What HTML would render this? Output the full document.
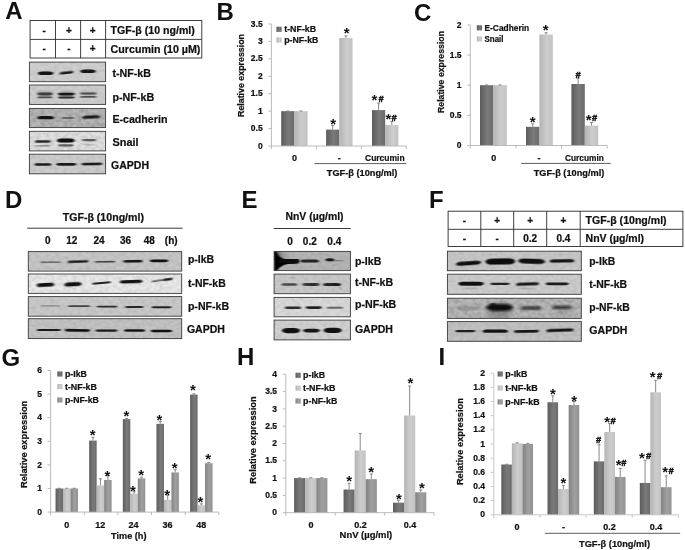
<!DOCTYPE html>
<html lang="en"><head><meta charset="utf-8"><title>Figure</title>
<style>html,body{margin:0;padding:0;background:#fff}svg{display:block;filter:blur(0.3px)}text{font-family:'Liberation Sans', sans-serif}</style>
</head><body>
<svg width="685" height="550" viewBox="0 0 685 550">
<defs>
<filter id="b1" x="-30%" y="-300%" width="160%" height="700%"><feGaussianBlur stdDeviation="1.1 0.7"/></filter>
<filter id="b2" x="-30%" y="-300%" width="160%" height="700%"><feGaussianBlur stdDeviation="1.6 1.2"/></filter>
<filter id="b3" x="-30%" y="-300%" width="160%" height="700%"><feGaussianBlur stdDeviation="2.5 2"/></filter>
<filter id="nz" x="0" y="0" width="100%" height="100%"><feTurbulence type="fractalNoise" baseFrequency="0.22 0.3" numOctaves="2" seed="7" result="t"/><feColorMatrix in="t" type="matrix" values="0 0 0 0 0  0 0 0 0 0  0 0 0 0 0  1.6 0 0 0 -0.55"/></filter>
<filter id="b0" x="-30%" y="-300%" width="160%" height="700%"><feGaussianBlur stdDeviation="0.8 0.5"/></filter>
<linearGradient id="gd" x1="0" y1="0" x2="1" y2="0"><stop offset="0" stop-color="#5c5c5c"/><stop offset="0.55" stop-color="#7a7a7a"/><stop offset="1" stop-color="#6a6a6a"/></linearGradient>
<linearGradient id="gl" x1="0" y1="0" x2="1" y2="0"><stop offset="0" stop-color="#b4b4b4"/><stop offset="0.55" stop-color="#cdcdcd"/><stop offset="1" stop-color="#c2c2c2"/></linearGradient>
<linearGradient id="gm" x1="0" y1="0" x2="1" y2="0"><stop offset="0" stop-color="#828282"/><stop offset="0.55" stop-color="#a0a0a0"/><stop offset="1" stop-color="#929292"/></linearGradient>
</defs>
<rect x="0" y="0" width="685" height="550" fill="#fff" stroke="none" stroke-width="1"/>
<text x="5.2" y="19.2" font-size="24" font-weight="bold" text-anchor="start" fill="#111">A</text>
<text x="216.6" y="19.7" font-size="24" font-weight="bold" text-anchor="start" fill="#111">B</text>
<text x="413.9" y="20.5" font-size="24" font-weight="bold" text-anchor="start" fill="#111">C</text>
<text x="4.9" y="208.1" font-size="24" font-weight="bold" text-anchor="start" fill="#111">D</text>
<text x="241.6" y="208" font-size="24" font-weight="bold" text-anchor="start" fill="#111">E</text>
<text x="429" y="207.8" font-size="24" font-weight="bold" text-anchor="start" fill="#111">F</text>
<text x="1.5" y="365.5" font-size="24" font-weight="bold" text-anchor="start" fill="#111">G</text>
<text x="236.9" y="365.4" font-size="24" font-weight="bold" text-anchor="start" fill="#111">H</text>
<text x="438.6" y="364.8" font-size="24" font-weight="bold" text-anchor="start" fill="#111">I</text>
<rect x="30.1" y="20.5" width="171.7" height="37.5" fill="#fff" stroke="#2a2a2a" stroke-width="0.9"/>
<line x1="30.1" y1="39.4" x2="201.8" y2="39.4" stroke="#2a2a2a" stroke-width="0.9"/>
<line x1="55.5" y1="20.5" x2="55.5" y2="58" stroke="#2a2a2a" stroke-width="0.9"/>
<line x1="80.6" y1="20.5" x2="80.6" y2="58" stroke="#2a2a2a" stroke-width="0.9"/>
<line x1="105.6" y1="20.5" x2="105.6" y2="58" stroke="#2a2a2a" stroke-width="0.9"/>
<text x="44.1" y="33.55" font-size="10" font-weight="bold" text-anchor="middle" fill="#111" stroke="#111" stroke-width="0.22">-</text>
<text x="44.1" y="52.3" font-size="10" font-weight="bold" text-anchor="middle" fill="#111" stroke="#111" stroke-width="0.22">-</text>
<text x="68.95" y="33.55" font-size="10" font-weight="bold" text-anchor="middle" fill="#111" stroke="#111" stroke-width="0.22">+</text>
<text x="68.95" y="52.3" font-size="10" font-weight="bold" text-anchor="middle" fill="#111" stroke="#111" stroke-width="0.22">-</text>
<text x="92.6" y="33.55" font-size="10" font-weight="bold" text-anchor="middle" fill="#111" stroke="#111" stroke-width="0.22">+</text>
<text x="92.6" y="52.3" font-size="10" font-weight="bold" text-anchor="middle" fill="#111" stroke="#111" stroke-width="0.22">+</text>
<text x="110.6" y="33.75" font-size="10.5" font-weight="bold" text-anchor="start" fill="#111" textLength="84.2" lengthAdjust="spacingAndGlyphs" stroke="#111" stroke-width="0.22">TGF-β (10 ng/ml)</text>
<text x="110.6" y="52.5" font-size="10.5" font-weight="bold" text-anchor="start" fill="#111" textLength="89.8" lengthAdjust="spacingAndGlyphs" stroke="#111" stroke-width="0.22">Curcumin (10 µM)</text>
<clipPath id="c1"><rect x="29.4" y="62.1" width="76.2" height="19.6"/></clipPath>
<rect x="29.4" y="62.1" width="76.2" height="19.6" fill="#cfcfcf" stroke="none" stroke-width="1"/>
<g clip-path="url(#c1)">
<rect x="29.4" y="62.1" width="76.2" height="19.6" fill="#000" opacity="0.09" filter="url(#nz)"/>
<rect x="37.85" y="71.4" width="15.5" height="3.6" rx="3.96" ry="1.8" fill="#0a0a0a" opacity="0.96" filter="url(#b1)"/>
<rect x="59.5" y="71.5" width="14" height="2.4" rx="2.64" ry="1.2" fill="#0a0a0a" opacity="0.95" filter="url(#b1)" transform="rotate(-6 66.5 72.7)"/>
<rect x="80.4" y="69.5" width="15.2" height="3.6" rx="3.96" ry="1.8" fill="#0a0a0a" opacity="0.96" filter="url(#b1)"/>
</g>
<rect x="29.4" y="62.1" width="76.2" height="19.6" fill="none" stroke="#3a3a3a" stroke-width="0.9"/>
<clipPath id="c2"><rect x="29.4" y="85" width="76.2" height="19.4"/></clipPath>
<rect x="29.4" y="85" width="76.2" height="19.4" fill="#cecece" stroke="none" stroke-width="1"/>
<g clip-path="url(#c2)">
<rect x="29.4" y="85" width="76.2" height="19.4" fill="#000" opacity="0.09" filter="url(#nz)"/>
<rect x="36.5" y="90.85" width="17" height="5.5" rx="6.05" ry="2.75" fill="#0a0a0a" opacity="0.18" filter="url(#b2)"/>
<rect x="58.5" y="90.85" width="17" height="5.5" rx="6.05" ry="2.75" fill="#0a0a0a" opacity="0.15" filter="url(#b2)"/>
<rect x="80" y="90.85" width="17" height="5.5" rx="6.05" ry="2.75" fill="#0a0a0a" opacity="0.12" filter="url(#b2)"/>
<rect x="37.5" y="92.6" width="15" height="2.8" rx="3.08" ry="1.4" fill="#0a0a0a" opacity="0.68" filter="url(#b1)"/>
<rect x="37.5" y="96.45" width="15" height="1.9" rx="2.09" ry="0.95" fill="#0a0a0a" opacity="0.65" filter="url(#b1)"/>
<rect x="57.9" y="92.8" width="16.8" height="2.6" rx="2.86" ry="1.3" fill="#0a0a0a" opacity="0.93" filter="url(#b1)"/>
<rect x="58.05" y="96.4" width="16.5" height="2" rx="2.2" ry="1" fill="#0a0a0a" opacity="0.82" filter="url(#b1)"/>
<rect x="80.05" y="92.6" width="16.5" height="2" rx="2.2" ry="1" fill="#0a0a0a" opacity="0.6" filter="url(#b1)"/>
<rect x="80.05" y="96" width="16.5" height="1.8" rx="1.98" ry="0.9" fill="#0a0a0a" opacity="0.62" filter="url(#b1)"/>
</g>
<rect x="29.4" y="85" width="76.2" height="19.4" fill="none" stroke="#3a3a3a" stroke-width="0.9"/>
<clipPath id="c3"><rect x="29.4" y="108.4" width="76.2" height="19.2"/></clipPath>
<rect x="29.4" y="108.4" width="76.2" height="19.2" fill="#b6b6b6" stroke="none" stroke-width="1"/>
<g clip-path="url(#c3)">
<rect x="29.4" y="108.4" width="76.2" height="19.2" fill="#000" opacity="0.2" filter="url(#nz)"/>
<rect x="37.45" y="116.1" width="16.5" height="3.2" rx="3.52" ry="1.6" fill="#0a0a0a" opacity="0.97" filter="url(#b1)"/>
<rect x="61.5" y="116.9" width="13" height="2.2" rx="2.42" ry="1.1" fill="#0a0a0a" opacity="0.45" filter="url(#b1)"/>
<rect x="82.25" y="115.5" width="17.5" height="3" rx="3.3" ry="1.5" fill="#0a0a0a" opacity="0.92" filter="url(#b1)" transform="rotate(-3 91 117)"/>
</g>
<rect x="29.4" y="108.4" width="76.2" height="19.2" fill="none" stroke="#3a3a3a" stroke-width="0.9"/>
<clipPath id="c4"><rect x="29.4" y="131.3" width="76.2" height="19.6"/></clipPath>
<rect x="29.4" y="131.3" width="76.2" height="19.6" fill="#e0e0e0" stroke="none" stroke-width="1"/>
<g clip-path="url(#c4)">
<rect x="29.4" y="131.3" width="76.2" height="19.6" fill="#000" opacity="0.14" filter="url(#nz)"/>
<rect x="34.9" y="140.2" width="16" height="2.6" rx="2.86" ry="1.3" fill="#0a0a0a" opacity="0.88" filter="url(#b1)" transform="rotate(-1 42.9 141.5)"/>
<rect x="35.1" y="145" width="15" height="1.8" rx="1.98" ry="0.9" fill="#0a0a0a" opacity="0.3" filter="url(#b1)"/>
<rect x="57.05" y="138.6" width="17.5" height="4" rx="4.4" ry="2" fill="#0a0a0a" opacity="0.98" filter="url(#b1)"/>
<rect x="58.05" y="144.3" width="15.5" height="2.2" rx="2.42" ry="1.1" fill="#0a0a0a" opacity="0.6" filter="url(#b1)"/>
<rect x="81.85" y="139" width="14.5" height="2.2" rx="2.42" ry="1.1" fill="#0a0a0a" opacity="0.62" filter="url(#b1)"/>
<rect x="83" y="143.7" width="12" height="1.8" rx="1.98" ry="0.9" fill="#0a0a0a" opacity="0.15" filter="url(#b1)"/>
</g>
<rect x="29.4" y="131.3" width="76.2" height="19.6" fill="none" stroke="#3a3a3a" stroke-width="0.9"/>
<clipPath id="c5"><rect x="29.4" y="154.2" width="76.2" height="19.6"/></clipPath>
<rect x="29.4" y="154.2" width="76.2" height="19.6" fill="#cdcdcd" stroke="none" stroke-width="1"/>
<g clip-path="url(#c5)">
<rect x="29.4" y="154.2" width="76.2" height="19.6" fill="#000" opacity="0.09" filter="url(#nz)"/>
<rect x="34.5" y="163.25" width="17" height="2.5" rx="2.75" ry="1.25" fill="#0a0a0a" opacity="0.93" filter="url(#b1)"/>
<rect x="56.3" y="162.9" width="20" height="2.8" rx="3.08" ry="1.4" fill="#0a0a0a" opacity="0.93" filter="url(#b1)"/>
<rect x="81.4" y="162.65" width="21" height="2.5" rx="2.75" ry="1.25" fill="#0a0a0a" opacity="0.93" filter="url(#b1)" transform="rotate(-1 91.9 163.9)"/>
</g>
<rect x="29.4" y="154.2" width="76.2" height="19.6" fill="none" stroke="#3a3a3a" stroke-width="0.9"/>
<text x="112.4" y="76.6" font-size="10.5" font-weight="bold" text-anchor="start" fill="#111" textLength="38.6" lengthAdjust="spacingAndGlyphs" stroke="#111" stroke-width="0.22">t-NF-kB</text>
<text x="112.4" y="101.1" font-size="10.5" font-weight="bold" text-anchor="start" fill="#111" textLength="41.8" lengthAdjust="spacingAndGlyphs" stroke="#111" stroke-width="0.22">p-NF-kB</text>
<text x="112.4" y="123.2" font-size="10.5" font-weight="bold" text-anchor="start" fill="#111" textLength="55" lengthAdjust="spacingAndGlyphs" stroke="#111" stroke-width="0.22">E-cadherin</text>
<text x="112.6" y="146.4" font-size="10.5" font-weight="bold" text-anchor="start" fill="#111" textLength="26" lengthAdjust="spacingAndGlyphs" stroke="#111" stroke-width="0.22">Snail</text>
<text x="111" y="169.3" font-size="10.5" font-weight="bold" text-anchor="start" fill="#111" textLength="38" lengthAdjust="spacingAndGlyphs" stroke="#111" stroke-width="0.22">GAPDH</text>
<rect x="281.2" y="111.14" width="13.2" height="34.86" fill="url(#gd)" stroke="none" stroke-width="1"/>
<line x1="287.8" y1="111.14" x2="287.8" y2="110.97" stroke="#7c7c7c" stroke-width="0.9"/>
<line x1="286.3" y1="110.97" x2="289.3" y2="110.97" stroke="#7c7c7c" stroke-width="0.9"/>
<rect x="294.4" y="111.14" width="13.2" height="34.86" fill="url(#gl)" stroke="none" stroke-width="1"/>
<line x1="301" y1="111.14" x2="301" y2="110.97" stroke="#7c7c7c" stroke-width="0.9"/>
<line x1="299.5" y1="110.97" x2="302.5" y2="110.97" stroke="#7c7c7c" stroke-width="0.9"/>
<rect x="326.1" y="129.62" width="13.2" height="16.38" fill="url(#gd)" stroke="none" stroke-width="1"/>
<line x1="332.7" y1="129.62" x2="332.7" y2="125.43" stroke="#7c7c7c" stroke-width="0.9"/>
<line x1="331.2" y1="125.43" x2="334.2" y2="125.43" stroke="#7c7c7c" stroke-width="0.9"/>
<rect x="339.3" y="37.93" width="13.2" height="108.07" fill="url(#gl)" stroke="none" stroke-width="1"/>
<line x1="345.9" y1="37.93" x2="345.9" y2="35.84" stroke="#7c7c7c" stroke-width="0.9"/>
<line x1="344.4" y1="35.84" x2="347.4" y2="35.84" stroke="#7c7c7c" stroke-width="0.9"/>
<rect x="372" y="110.09" width="13.2" height="35.91" fill="url(#gd)" stroke="none" stroke-width="1"/>
<line x1="378.6" y1="110.09" x2="378.6" y2="103.12" stroke="#7c7c7c" stroke-width="0.9"/>
<line x1="377.1" y1="103.12" x2="380.1" y2="103.12" stroke="#7c7c7c" stroke-width="0.9"/>
<rect x="385.2" y="125.08" width="13.2" height="20.92" fill="url(#gl)" stroke="none" stroke-width="1"/>
<line x1="391.8" y1="125.08" x2="391.8" y2="121.6" stroke="#7c7c7c" stroke-width="0.9"/>
<line x1="390.3" y1="121.6" x2="393.3" y2="121.6" stroke="#7c7c7c" stroke-width="0.9"/>
<line x1="271.4" y1="23.99" x2="271.4" y2="146.4" stroke="#b4b4b4" stroke-width="0.9"/>
<line x1="271.4" y1="146" x2="406.3" y2="146" stroke="#b4b4b4" stroke-width="0.9"/>
<line x1="268.4" y1="146" x2="271.4" y2="146" stroke="#b4b4b4" stroke-width="0.9"/>
<text x="262.7" y="148.6" font-size="8.5" font-weight="bold" text-anchor="end" fill="#111" stroke="#111" stroke-width="0.22">0</text>
<line x1="268.4" y1="128.57" x2="271.4" y2="128.57" stroke="#b4b4b4" stroke-width="0.9"/>
<text x="262.7" y="131.17" font-size="8.5" font-weight="bold" text-anchor="end" fill="#111" stroke="#111" stroke-width="0.22">0.5</text>
<line x1="268.4" y1="111.14" x2="271.4" y2="111.14" stroke="#b4b4b4" stroke-width="0.9"/>
<text x="262.7" y="113.74" font-size="8.5" font-weight="bold" text-anchor="end" fill="#111" stroke="#111" stroke-width="0.22">1</text>
<line x1="268.4" y1="93.71" x2="271.4" y2="93.71" stroke="#b4b4b4" stroke-width="0.9"/>
<text x="262.7" y="96.31" font-size="8.5" font-weight="bold" text-anchor="end" fill="#111" stroke="#111" stroke-width="0.22">1.5</text>
<line x1="268.4" y1="76.28" x2="271.4" y2="76.28" stroke="#b4b4b4" stroke-width="0.9"/>
<text x="262.7" y="78.88" font-size="8.5" font-weight="bold" text-anchor="end" fill="#111" stroke="#111" stroke-width="0.22">2</text>
<line x1="268.4" y1="58.85" x2="271.4" y2="58.85" stroke="#b4b4b4" stroke-width="0.9"/>
<text x="262.7" y="61.45" font-size="8.5" font-weight="bold" text-anchor="end" fill="#111" stroke="#111" stroke-width="0.22">2.5</text>
<line x1="268.4" y1="41.42" x2="271.4" y2="41.42" stroke="#b4b4b4" stroke-width="0.9"/>
<text x="262.7" y="44.02" font-size="8.5" font-weight="bold" text-anchor="end" fill="#111" stroke="#111" stroke-width="0.22">3</text>
<line x1="268.4" y1="23.99" x2="271.4" y2="23.99" stroke="#b4b4b4" stroke-width="0.9"/>
<text x="262.7" y="26.59" font-size="8.5" font-weight="bold" text-anchor="end" fill="#111" stroke="#111" stroke-width="0.22">3.5</text>
<line x1="271.4" y1="146" x2="271.4" y2="149" stroke="#b4b4b4" stroke-width="0.9"/>
<line x1="316.37" y1="146" x2="316.37" y2="149" stroke="#b4b4b4" stroke-width="0.9"/>
<line x1="361.33" y1="146" x2="361.33" y2="149" stroke="#b4b4b4" stroke-width="0.9"/>
<line x1="406.3" y1="146" x2="406.3" y2="149" stroke="#b4b4b4" stroke-width="0.9"/>
<text x="294.6" y="161.2" font-size="9" font-weight="bold" text-anchor="middle" fill="#111" stroke="#111" stroke-width="0.22">0</text>
<text x="339.3" y="161.2" font-size="9" font-weight="bold" text-anchor="middle" fill="#111" stroke="#111" stroke-width="0.22">-</text>
<text x="384.8" y="161.2" font-size="9" font-weight="bold" text-anchor="middle" fill="#111" textLength="39.6" lengthAdjust="spacingAndGlyphs" stroke="#111" stroke-width="0.22">Curcumin</text>
<rect x="276.4" y="26.7" width="5.2" height="5.2" fill="url(#gd)" stroke="none" stroke-width="1"/>
<text x="284.2" y="32.4" font-size="8.8" font-weight="bold" text-anchor="start" fill="#111" textLength="32" lengthAdjust="spacingAndGlyphs" stroke="#111" stroke-width="0.22">t-NF-kB</text>
<rect x="276.4" y="37.4" width="5.2" height="5.2" fill="url(#gl)" stroke="none" stroke-width="1"/>
<text x="284.2" y="43.1" font-size="8.8" font-weight="bold" text-anchor="start" fill="#111" textLength="34.2" lengthAdjust="spacingAndGlyphs" stroke="#111" stroke-width="0.22">p-NF-kB</text>
<text transform="translate(244.2 75.5) rotate(-90)" font-size="9.2" font-weight="bold" text-anchor="middle" fill="#111" stroke="#111" stroke-width="0.22" textLength="83" lengthAdjust="spacingAndGlyphs">Relative expression</text>
<line x1="314.3" y1="163.6" x2="406.3" y2="163.6" stroke="#333" stroke-width="0.8"/>
<text x="362.1" y="175.6" font-size="9.6" font-weight="bold" text-anchor="middle" fill="#111" textLength="70.7" lengthAdjust="spacingAndGlyphs" stroke="#111" stroke-width="0.22">TGF-β (10ng/ml)</text>
<rect x="480" y="85.2" width="13.4" height="60.3" fill="url(#gd)" stroke="none" stroke-width="1"/>
<line x1="486.7" y1="85.2" x2="486.7" y2="84.96" stroke="#7c7c7c" stroke-width="0.9"/>
<line x1="485.2" y1="84.96" x2="488.2" y2="84.96" stroke="#7c7c7c" stroke-width="0.9"/>
<rect x="493.4" y="85.2" width="13.4" height="60.3" fill="url(#gl)" stroke="none" stroke-width="1"/>
<line x1="500.1" y1="85.2" x2="500.1" y2="84.96" stroke="#7c7c7c" stroke-width="0.9"/>
<line x1="498.6" y1="84.96" x2="501.6" y2="84.96" stroke="#7c7c7c" stroke-width="0.9"/>
<rect x="526" y="126.81" width="13.4" height="18.69" fill="url(#gd)" stroke="none" stroke-width="1"/>
<line x1="532.7" y1="126.81" x2="532.7" y2="123.79" stroke="#7c7c7c" stroke-width="0.9"/>
<line x1="531.2" y1="123.79" x2="534.2" y2="123.79" stroke="#7c7c7c" stroke-width="0.9"/>
<rect x="539.4" y="34.55" width="13.4" height="110.95" fill="url(#gl)" stroke="none" stroke-width="1"/>
<line x1="546.1" y1="34.55" x2="546.1" y2="32.74" stroke="#7c7c7c" stroke-width="0.9"/>
<line x1="544.6" y1="32.74" x2="547.6" y2="32.74" stroke="#7c7c7c" stroke-width="0.9"/>
<rect x="571.4" y="83.99" width="13.4" height="61.51" fill="url(#gd)" stroke="none" stroke-width="1"/>
<line x1="578.1" y1="83.99" x2="578.1" y2="77.96" stroke="#7c7c7c" stroke-width="0.9"/>
<line x1="576.6" y1="77.96" x2="579.6" y2="77.96" stroke="#7c7c7c" stroke-width="0.9"/>
<rect x="584.8" y="125.6" width="13.4" height="19.9" fill="url(#gl)" stroke="none" stroke-width="1"/>
<line x1="591.5" y1="125.6" x2="591.5" y2="122.59" stroke="#7c7c7c" stroke-width="0.9"/>
<line x1="590" y1="122.59" x2="593" y2="122.59" stroke="#7c7c7c" stroke-width="0.9"/>
<line x1="470.3" y1="24.9" x2="470.3" y2="145.9" stroke="#b4b4b4" stroke-width="0.9"/>
<line x1="470.3" y1="145.5" x2="607.2" y2="145.5" stroke="#b4b4b4" stroke-width="0.9"/>
<line x1="467.3" y1="145.5" x2="470.3" y2="145.5" stroke="#b4b4b4" stroke-width="0.9"/>
<text x="461.6" y="148.1" font-size="8.5" font-weight="bold" text-anchor="end" fill="#111" stroke="#111" stroke-width="0.22">0</text>
<line x1="467.3" y1="115.35" x2="470.3" y2="115.35" stroke="#b4b4b4" stroke-width="0.9"/>
<text x="461.6" y="117.95" font-size="8.5" font-weight="bold" text-anchor="end" fill="#111" stroke="#111" stroke-width="0.22">0.5</text>
<line x1="467.3" y1="85.2" x2="470.3" y2="85.2" stroke="#b4b4b4" stroke-width="0.9"/>
<text x="461.6" y="87.8" font-size="8.5" font-weight="bold" text-anchor="end" fill="#111" stroke="#111" stroke-width="0.22">1</text>
<line x1="467.3" y1="55.05" x2="470.3" y2="55.05" stroke="#b4b4b4" stroke-width="0.9"/>
<text x="461.6" y="57.65" font-size="8.5" font-weight="bold" text-anchor="end" fill="#111" stroke="#111" stroke-width="0.22">1.5</text>
<line x1="467.3" y1="24.9" x2="470.3" y2="24.9" stroke="#b4b4b4" stroke-width="0.9"/>
<text x="461.6" y="27.5" font-size="8.5" font-weight="bold" text-anchor="end" fill="#111" stroke="#111" stroke-width="0.22">2</text>
<line x1="470.3" y1="145.5" x2="470.3" y2="148.5" stroke="#b4b4b4" stroke-width="0.9"/>
<line x1="515.93" y1="145.5" x2="515.93" y2="148.5" stroke="#b4b4b4" stroke-width="0.9"/>
<line x1="561.57" y1="145.5" x2="561.57" y2="148.5" stroke="#b4b4b4" stroke-width="0.9"/>
<line x1="607.2" y1="145.5" x2="607.2" y2="148.5" stroke="#b4b4b4" stroke-width="0.9"/>
<text x="493.7" y="161.3" font-size="9" font-weight="bold" text-anchor="middle" fill="#111" stroke="#111" stroke-width="0.22">0</text>
<text x="539" y="161.3" font-size="9" font-weight="bold" text-anchor="middle" fill="#111" stroke="#111" stroke-width="0.22">-</text>
<text x="584.4" y="161.3" font-size="9" font-weight="bold" text-anchor="middle" fill="#111" textLength="38.8" lengthAdjust="spacingAndGlyphs" stroke="#111" stroke-width="0.22">Curcumin</text>
<rect x="476.8" y="25.2" width="5.2" height="5.2" fill="url(#gd)" stroke="none" stroke-width="1"/>
<text x="484.5" y="30.9" font-size="8.8" font-weight="bold" text-anchor="start" fill="#111" textLength="44.6" lengthAdjust="spacingAndGlyphs" stroke="#111" stroke-width="0.22">E-Cadherin</text>
<rect x="476.8" y="36.4" width="5.2" height="5.2" fill="url(#gl)" stroke="none" stroke-width="1"/>
<text x="484.5" y="42.1" font-size="8.8" font-weight="bold" text-anchor="start" fill="#111" textLength="19" lengthAdjust="spacingAndGlyphs" stroke="#111" stroke-width="0.22">Snail</text>
<text transform="translate(443.8 72) rotate(-90)" font-size="9.2" font-weight="bold" text-anchor="middle" fill="#111" stroke="#111" stroke-width="0.22" textLength="82" lengthAdjust="spacingAndGlyphs">Relative expression</text>
<line x1="521.2" y1="163.4" x2="610.7" y2="163.4" stroke="#333" stroke-width="0.8"/>
<text x="569" y="175.6" font-size="9.6" font-weight="bold" text-anchor="middle" fill="#111" textLength="70.7" lengthAdjust="spacingAndGlyphs" stroke="#111" stroke-width="0.22">TGF-β (10ng/ml)</text>
<text x="62.7" y="221.2" font-size="10.5" font-weight="bold" text-anchor="start" fill="#111" textLength="81.3" lengthAdjust="spacingAndGlyphs" stroke="#111" stroke-width="0.22">TGF-β (10ng/ml)</text>
<line x1="27.2" y1="228.2" x2="182.6" y2="228.2" stroke="#222" stroke-width="0.9"/>
<text x="47.7" y="244.2" font-size="10" font-weight="bold" text-anchor="middle" fill="#111" stroke="#111" stroke-width="0.22">0</text>
<text x="71.8" y="244.2" font-size="10" font-weight="bold" text-anchor="middle" fill="#111" stroke="#111" stroke-width="0.22">12</text>
<text x="99" y="244.2" font-size="10" font-weight="bold" text-anchor="middle" fill="#111" stroke="#111" stroke-width="0.22">24</text>
<text x="125.6" y="244.2" font-size="10" font-weight="bold" text-anchor="middle" fill="#111" stroke="#111" stroke-width="0.22">36</text>
<text x="149.3" y="244.2" font-size="10" font-weight="bold" text-anchor="middle" fill="#111" stroke="#111" stroke-width="0.22">48</text>
<text x="171.2" y="244.2" font-size="10" font-weight="bold" text-anchor="middle" fill="#111" stroke="#111" stroke-width="0.22">(h)</text>
<clipPath id="c6"><rect x="28.3" y="251.6" width="153.4" height="19.5"/></clipPath>
<rect x="28.3" y="251.6" width="153.4" height="19.5" fill="#c6c6c6" stroke="none" stroke-width="1"/>
<g clip-path="url(#c6)">
<rect x="28.3" y="251.6" width="153.4" height="19.5" fill="#000" opacity="0.09" filter="url(#nz)"/>
<rect x="40.3" y="261.45" width="21" height="1.5" rx="1.65" ry="0.75" fill="#0a0a0a" opacity="0.5" filter="url(#b1)" transform="rotate(-1 50.8 262.2)"/>
<rect x="67.5" y="260.6" width="21" height="2.2" rx="2.42" ry="1.1" fill="#0a0a0a" opacity="0.95" filter="url(#b1)" transform="rotate(-2 78 261.7)"/>
<rect x="94.5" y="260.9" width="21" height="1.6" rx="1.76" ry="0.8" fill="#0a0a0a" opacity="0.72" filter="url(#b1)" transform="rotate(-1 105 261.7)"/>
<rect x="123.15" y="260" width="19.5" height="2.4" rx="2.64" ry="1.2" fill="#0a0a0a" opacity="0.95" filter="url(#b1)" transform="rotate(-1 132.9 261.2)"/>
<rect x="149.85" y="259.4" width="18.5" height="2.8" rx="3.08" ry="1.4" fill="#0a0a0a" opacity="0.98" filter="url(#b1)"/>
</g>
<rect x="28.3" y="251.6" width="153.4" height="19.5" fill="none" stroke="#3a3a3a" stroke-width="0.9"/>
<clipPath id="c7"><rect x="28.3" y="274" width="153.4" height="19.4"/></clipPath>
<rect x="28.3" y="274" width="153.4" height="19.4" fill="#e9e9e9" stroke="none" stroke-width="1"/>
<g clip-path="url(#c7)">
<rect x="28.3" y="274" width="153.4" height="19.4" fill="#000" opacity="0.12" filter="url(#nz)"/>
<rect x="36.75" y="283.1" width="17.5" height="3.6" rx="3.96" ry="1.8" fill="#0a0a0a" opacity="0.98" filter="url(#b1)" transform="rotate(-3 45.5 284.9)"/>
<rect x="64.5" y="282.2" width="17" height="4" rx="4.4" ry="2" fill="#0a0a0a" opacity="0.98" filter="url(#b1)" transform="rotate(-3 73 284.2)"/>
<rect x="92" y="281.9" width="19" height="2.2" rx="2.42" ry="1.1" fill="#0a0a0a" opacity="0.9" filter="url(#b1)" transform="rotate(-5 101.5 283)"/>
<rect x="119.7" y="280" width="23" height="3.2" rx="3.52" ry="1.6" fill="#0a0a0a" opacity="0.98" filter="url(#b1)" transform="rotate(-2 131.2 281.6)"/>
<rect x="151.5" y="279.3" width="21" height="1.8" rx="1.98" ry="0.9" fill="#0a0a0a" opacity="0.6" filter="url(#b1)" transform="rotate(-8 162 280.2)"/>
<rect x="163.5" y="278.2" width="9" height="2.4" rx="2.64" ry="1.2" fill="#0a0a0a" opacity="0.85" filter="url(#b1)" transform="rotate(-8 168 279.4)"/>
</g>
<rect x="28.3" y="274" width="153.4" height="19.4" fill="none" stroke="#3a3a3a" stroke-width="0.9"/>
<clipPath id="c8"><rect x="28.3" y="296.6" width="153.4" height="19.6"/></clipPath>
<rect x="28.3" y="296.6" width="153.4" height="19.6" fill="#c9c9c9" stroke="none" stroke-width="1"/>
<g clip-path="url(#c8)">
<rect x="28.3" y="296.6" width="153.4" height="19.6" fill="#000" opacity="0.09" filter="url(#nz)"/>
<rect x="40.5" y="305.15" width="20" height="1.3" rx="1.43" ry="0.65" fill="#0a0a0a" opacity="0.33" filter="url(#b1)"/>
<rect x="68" y="305.35" width="22" height="1.7" rx="1.87" ry="0.85" fill="#0a0a0a" opacity="0.72" filter="url(#b1)"/>
<rect x="96.5" y="305.65" width="21" height="1.9" rx="2.09" ry="0.95" fill="#0a0a0a" opacity="0.82" filter="url(#b1)"/>
<rect x="125.05" y="306.05" width="18.5" height="1.9" rx="2.09" ry="0.95" fill="#0a0a0a" opacity="0.85" filter="url(#b1)"/>
<rect x="151.5" y="306.35" width="20" height="1.9" rx="2.09" ry="0.95" fill="#0a0a0a" opacity="0.88" filter="url(#b1)"/>
</g>
<rect x="28.3" y="296.6" width="153.4" height="19.6" fill="none" stroke="#3a3a3a" stroke-width="0.9"/>
<clipPath id="c9"><rect x="28.3" y="318.7" width="153.4" height="19.9"/></clipPath>
<rect x="28.3" y="318.7" width="153.4" height="19.9" fill="#c3c3c3" stroke="none" stroke-width="1"/>
<g clip-path="url(#c9)">
<rect x="28.3" y="318.7" width="153.4" height="19.9" fill="#000" opacity="0.09" filter="url(#nz)"/>
<rect x="36.8" y="329" width="24" height="2" rx="2.2" ry="1" fill="#0a0a0a" opacity="0.93" filter="url(#b1)"/>
<rect x="64.75" y="328.9" width="25.5" height="2.8" rx="3.08" ry="1.4" fill="#0a0a0a" opacity="0.97" filter="url(#b1)" transform="rotate(1 77.5 330.3)"/>
<rect x="95.5" y="329.5" width="22" height="2.2" rx="2.42" ry="1.1" fill="#0a0a0a" opacity="0.93" filter="url(#b1)"/>
<rect x="124" y="329.25" width="21" height="2.5" rx="2.75" ry="1.25" fill="#0a0a0a" opacity="0.97" filter="url(#b1)"/>
<rect x="150.75" y="329.65" width="21.5" height="2.7" rx="2.97" ry="1.35" fill="#0a0a0a" opacity="0.97" filter="url(#b1)"/>
</g>
<rect x="28.3" y="318.7" width="153.4" height="19.9" fill="none" stroke="#3a3a3a" stroke-width="0.9"/>
<text x="187.9" y="262.8" font-size="10.5" font-weight="bold" text-anchor="start" fill="#111" textLength="26.2" lengthAdjust="spacingAndGlyphs" stroke="#111" stroke-width="0.22">p-IkB</text>
<text x="187.9" y="286.6" font-size="10.5" font-weight="bold" text-anchor="start" fill="#111" textLength="37.9" lengthAdjust="spacingAndGlyphs" stroke="#111" stroke-width="0.22">t-NF-kB</text>
<text x="187.9" y="309.7" font-size="10.5" font-weight="bold" text-anchor="start" fill="#111" textLength="41.2" lengthAdjust="spacingAndGlyphs" stroke="#111" stroke-width="0.22">p-NF-kB</text>
<text x="186.9" y="333.1" font-size="10.5" font-weight="bold" text-anchor="start" fill="#111" textLength="38" lengthAdjust="spacingAndGlyphs" stroke="#111" stroke-width="0.22">GAPDH</text>
<text x="285.5" y="220.4" font-size="10.5" font-weight="bold" text-anchor="start" fill="#111" textLength="58" lengthAdjust="spacingAndGlyphs" stroke="#111" stroke-width="0.22">NnV (µg/ml)</text>
<line x1="273.7" y1="228.5" x2="350.7" y2="228.5" stroke="#222" stroke-width="0.9"/>
<text x="290" y="244.9" font-size="10" font-weight="bold" text-anchor="middle" fill="#111" stroke="#111" stroke-width="0.22">0</text>
<text x="309.8" y="244.9" font-size="10" font-weight="bold" text-anchor="middle" fill="#111" stroke="#111" stroke-width="0.22">0.2</text>
<text x="334.3" y="244.9" font-size="10" font-weight="bold" text-anchor="middle" fill="#111" stroke="#111" stroke-width="0.22">0.4</text>
<clipPath id="c10"><rect x="274.1" y="251.4" width="76.3" height="19.2"/></clipPath>
<rect x="274.1" y="251.4" width="76.3" height="19.2" fill="#b5b5b5" stroke="none" stroke-width="1"/>
<g clip-path="url(#c10)">
<rect x="274.1" y="251.4" width="76.3" height="19.2" fill="#000" opacity="0.09" filter="url(#nz)"/>
<linearGradient id="eh" x1="0" y1="0" x2="1" y2="0"><stop offset="0" stop-color="#222" stop-opacity="0.75"/><stop offset="0.45" stop-color="#555" stop-opacity="0.3"/><stop offset="1" stop-color="#888" stop-opacity="0"/></linearGradient><rect x="274" y="251" width="18" height="8.5" fill="url(#eh)"/><path d="M274 250.5 L276.2 250.5 C277.5 255 280.5 258.4 285 259 L298.5 259 L298.5 263.5 L290 263.7 C284 264.2 279.5 266.5 277 271 L274 271 Z" fill="#060606" filter="url(#b0)"/>
<rect x="277.5" y="259.1" width="21" height="4.4" rx="4.84" ry="2.2" fill="#0a0a0a" opacity="1" filter="url(#b1)"/>
<rect x="300.45" y="259.6" width="18.5" height="3" rx="3.3" ry="1.5" fill="#0a0a0a" opacity="0.85" filter="url(#b1)"/>
<rect x="325.55" y="258.3" width="8.5" height="3" rx="3.3" ry="1.5" fill="#0a0a0a" opacity="0.95" filter="url(#b1)"/>
<rect x="332" y="259.95" width="12" height="1.3" rx="1.43" ry="0.65" fill="#0a0a0a" opacity="0.35" filter="url(#b1)" transform="rotate(3 338 260.6)"/>
</g>
<rect x="274.1" y="251.4" width="76.3" height="19.2" fill="none" stroke="#3a3a3a" stroke-width="0.9"/>
<clipPath id="c11"><rect x="274.1" y="274.1" width="76.3" height="19.6"/></clipPath>
<rect x="274.1" y="274.1" width="76.3" height="19.6" fill="#c9c9c9" stroke="none" stroke-width="1"/>
<g clip-path="url(#c11)">
<rect x="274.1" y="274.1" width="76.3" height="19.6" fill="#000" opacity="0.09" filter="url(#nz)"/>
<rect x="281.4" y="283.15" width="16" height="2.7" rx="2.97" ry="1.35" fill="#0a0a0a" opacity="0.68" filter="url(#b1)"/>
<rect x="302.5" y="283.05" width="17" height="2.9" rx="3.19" ry="1.45" fill="#0a0a0a" opacity="0.75" filter="url(#b1)"/>
<rect x="309" y="283.1" width="8" height="2.4" rx="2.64" ry="1.2" fill="#0a0a0a" opacity="0.3" filter="url(#b1)"/>
<rect x="323.25" y="283" width="17.5" height="3" rx="3.3" ry="1.5" fill="#0a0a0a" opacity="0.85" filter="url(#b1)"/>
<rect x="333" y="283.3" width="7" height="2.6" rx="2.86" ry="1.3" fill="#0a0a0a" opacity="0.5" filter="url(#b1)"/>
<rect x="338" y="287.5" width="5" height="1.6" rx="1.76" ry="0.8" fill="#0a0a0a" opacity="0.2" filter="url(#b1)" transform="rotate(40 340.5 288.3)"/>
<rect x="288.5" y="277.1" width="7" height="1.4" rx="1.54" ry="0.7" fill="#0a0a0a" opacity="0.12" filter="url(#b1)"/>
</g>
<rect x="274.1" y="274.1" width="76.3" height="19.6" fill="none" stroke="#3a3a3a" stroke-width="0.9"/>
<clipPath id="c12"><rect x="274.1" y="297.4" width="76.3" height="19.4"/></clipPath>
<rect x="274.1" y="297.4" width="76.3" height="19.4" fill="#d9d9d9" stroke="none" stroke-width="1"/>
<g clip-path="url(#c12)">
<rect x="274.1" y="297.4" width="76.3" height="19.4" fill="#000" opacity="0.09" filter="url(#nz)"/>
<rect x="284.75" y="306.5" width="16.5" height="2.6" rx="2.86" ry="1.3" fill="#0a0a0a" opacity="0.85" filter="url(#b1)"/>
<rect x="305.7" y="306.2" width="16" height="2.8" rx="3.08" ry="1.4" fill="#0a0a0a" opacity="0.9" filter="url(#b1)"/>
<rect x="326.75" y="306.8" width="16.5" height="2" rx="2.2" ry="1" fill="#0a0a0a" opacity="0.55" filter="url(#b1)"/>
</g>
<rect x="274.1" y="297.4" width="76.3" height="19.4" fill="none" stroke="#3a3a3a" stroke-width="0.9"/>
<clipPath id="c13"><rect x="274.1" y="320.1" width="76.3" height="19.8"/></clipPath>
<rect x="274.1" y="320.1" width="76.3" height="19.8" fill="#d1d1d1" stroke="none" stroke-width="1"/>
<g clip-path="url(#c13)">
<rect x="274.1" y="320.1" width="76.3" height="19.8" fill="#000" opacity="0.09" filter="url(#nz)"/>
<rect x="282" y="327.9" width="18" height="5.4" rx="5.94" ry="2.7" fill="#0a0a0a" opacity="0.98" filter="url(#b1)"/>
<rect x="303.25" y="328.7" width="16.5" height="3.8" rx="4.18" ry="1.9" fill="#0a0a0a" opacity="0.95" filter="url(#b1)"/>
<rect x="323.7" y="327.8" width="18" height="5.2" rx="5.72" ry="2.6" fill="#0a0a0a" opacity="0.98" filter="url(#b1)"/>
</g>
<rect x="274.1" y="320.1" width="76.3" height="19.8" fill="none" stroke="#3a3a3a" stroke-width="0.9"/>
<text x="354.9" y="264.5" font-size="10.5" font-weight="bold" text-anchor="start" fill="#111" textLength="26.4" lengthAdjust="spacingAndGlyphs" stroke="#111" stroke-width="0.22">p-IkB</text>
<text x="354.9" y="286.4" font-size="10.5" font-weight="bold" text-anchor="start" fill="#111" textLength="38.3" lengthAdjust="spacingAndGlyphs" stroke="#111" stroke-width="0.22">t-NF-kB</text>
<text x="354.9" y="308" font-size="10.5" font-weight="bold" text-anchor="start" fill="#111" textLength="41.4" lengthAdjust="spacingAndGlyphs" stroke="#111" stroke-width="0.22">p-NF-kB</text>
<text x="354.9" y="333.3" font-size="10.5" font-weight="bold" text-anchor="start" fill="#111" textLength="38" lengthAdjust="spacingAndGlyphs" stroke="#111" stroke-width="0.22">GAPDH</text>
<rect x="448.1" y="211.2" width="234.8" height="35.3" fill="#fff" stroke="#2a2a2a" stroke-width="0.9"/>
<line x1="448.1" y1="229.3" x2="682.9" y2="229.3" stroke="#2a2a2a" stroke-width="0.9"/>
<line x1="480.8" y1="211.2" x2="480.8" y2="246.5" stroke="#2a2a2a" stroke-width="0.9"/>
<line x1="513.7" y1="211.2" x2="513.7" y2="246.5" stroke="#2a2a2a" stroke-width="0.9"/>
<line x1="546.7" y1="211.2" x2="546.7" y2="246.5" stroke="#2a2a2a" stroke-width="0.9"/>
<line x1="580.2" y1="211.2" x2="580.2" y2="246.5" stroke="#2a2a2a" stroke-width="0.9"/>
<text x="464.45" y="223.85" font-size="10" font-weight="bold" text-anchor="middle" fill="#111" stroke="#111" stroke-width="0.22">-</text>
<text x="464.45" y="241.5" font-size="10" font-weight="bold" text-anchor="middle" fill="#111" stroke="#111" stroke-width="0.22">-</text>
<text x="497.25" y="223.85" font-size="10" font-weight="bold" text-anchor="middle" fill="#111" stroke="#111" stroke-width="0.22">+</text>
<text x="497.25" y="241.5" font-size="10" font-weight="bold" text-anchor="middle" fill="#111" stroke="#111" stroke-width="0.22">-</text>
<text x="530.2" y="223.85" font-size="10" font-weight="bold" text-anchor="middle" fill="#111" stroke="#111" stroke-width="0.22">+</text>
<text x="530.2" y="241.5" font-size="10" font-weight="bold" text-anchor="middle" fill="#111" stroke="#111" stroke-width="0.22">0.2</text>
<text x="563.45" y="223.85" font-size="10" font-weight="bold" text-anchor="middle" fill="#111" stroke="#111" stroke-width="0.22">+</text>
<text x="563.45" y="241.5" font-size="10" font-weight="bold" text-anchor="middle" fill="#111" stroke="#111" stroke-width="0.22">0.4</text>
<text x="585.6" y="224.05" font-size="10.5" font-weight="bold" text-anchor="start" fill="#111" textLength="81" lengthAdjust="spacingAndGlyphs" stroke="#111" stroke-width="0.22">TGF-β (10ng/ml)</text>
<text x="585.6" y="241.7" font-size="10.5" font-weight="bold" text-anchor="start" fill="#111" textLength="58.5" lengthAdjust="spacingAndGlyphs" stroke="#111" stroke-width="0.22">NnV (µg/ml)</text>
<clipPath id="c14"><rect x="447.4" y="251.2" width="133.9" height="19.5"/></clipPath>
<rect x="447.4" y="251.2" width="133.9" height="19.5" fill="#c7c7c7" stroke="none" stroke-width="1"/>
<g clip-path="url(#c14)">
<rect x="447.4" y="251.2" width="133.9" height="19.5" fill="#000" opacity="0.09" filter="url(#nz)"/>
<rect x="456.25" y="261.35" width="24.5" height="3.9" rx="4.29" ry="1.95" fill="#0a0a0a" opacity="0.98" filter="url(#b1)" transform="rotate(-4 468.5 263.3)"/>
<rect x="485.55" y="258.4" width="29.5" height="6.2" rx="6.82" ry="3.1" fill="#0a0a0a" opacity="1" filter="url(#b1)" transform="rotate(-1 500.3 261.5)"/>
<rect x="518.45" y="258.8" width="26.5" height="5" rx="5.5" ry="2.5" fill="#0a0a0a" opacity="0.98" filter="url(#b1)" transform="rotate(2 531.7 261.3)"/>
<rect x="549.75" y="259.2" width="24.5" height="3.4" rx="3.74" ry="1.7" fill="#0a0a0a" opacity="0.95" filter="url(#b1)" transform="rotate(-1 562 260.9)"/>
</g>
<rect x="447.4" y="251.2" width="133.9" height="19.5" fill="none" stroke="#3a3a3a" stroke-width="0.9"/>
<clipPath id="c15"><rect x="447.4" y="274.2" width="133.9" height="20.1"/></clipPath>
<rect x="447.4" y="274.2" width="133.9" height="20.1" fill="#cccccc" stroke="none" stroke-width="1"/>
<g clip-path="url(#c15)">
<rect x="447.4" y="274.2" width="133.9" height="20.1" fill="#000" opacity="0.09" filter="url(#nz)"/>
<rect x="458.5" y="281.75" width="25" height="3.9" rx="4.29" ry="1.95" fill="#0a0a0a" opacity="0.98" filter="url(#b1)"/>
<rect x="490.25" y="282.65" width="19.5" height="2.3" rx="2.53" ry="1.15" fill="#0a0a0a" opacity="0.88" filter="url(#b1)"/>
<rect x="516" y="282.45" width="23" height="3.1" rx="3.41" ry="1.55" fill="#0a0a0a" opacity="0.92" filter="url(#b1)" transform="rotate(-2 527.5 284)"/>
<rect x="545.7" y="282.4" width="23" height="2.8" rx="3.08" ry="1.4" fill="#0a0a0a" opacity="0.92" filter="url(#b1)"/>
<rect x="462" y="287.5" width="16" height="2" rx="2.2" ry="1" fill="#0a0a0a" opacity="0.1" filter="url(#b1)"/>
<rect x="518" y="287.5" width="18" height="2" rx="2.2" ry="1" fill="#0a0a0a" opacity="0.1" filter="url(#b1)"/>
</g>
<rect x="447.4" y="274.2" width="133.9" height="20.1" fill="none" stroke="#3a3a3a" stroke-width="0.9"/>
<clipPath id="c16"><rect x="447.4" y="298.2" width="133.9" height="20.2"/></clipPath>
<rect x="447.4" y="298.2" width="133.9" height="20.2" fill="#b8b8b8" stroke="none" stroke-width="1"/>
<g clip-path="url(#c16)">
<rect x="447.4" y="298.2" width="133.9" height="20.2" fill="#000" opacity="0.2" filter="url(#nz)"/>
<rect x="457" y="306.8" width="22" height="2.8" rx="3.08" ry="1.4" fill="#0a0a0a" opacity="0.25" filter="url(#b2)"/>
<rect x="486" y="303.8" width="27" height="7.4" rx="8.14" ry="3.7" fill="#0a0a0a" opacity="1" filter="url(#b2)"/>
<rect x="490.5" y="302.9" width="5" height="3" rx="2.5" ry="1.5" fill="#0a0a0a" opacity="0.8" filter="url(#b1)"/>
<rect x="487" y="312" width="24" height="5" rx="5.5" ry="2.5" fill="#0a0a0a" opacity="0.3" filter="url(#b3)"/>
<rect x="520.5" y="306.4" width="21" height="3.2" rx="3.52" ry="1.6" fill="#0a0a0a" opacity="0.85" filter="url(#b2)"/>
<rect x="552" y="305.7" width="20" height="3.4" rx="3.74" ry="1.7" fill="#0a0a0a" opacity="0.8" filter="url(#b2)"/>
<rect x="556" y="310.5" width="10" height="4" rx="4.4" ry="2" fill="#0a0a0a" opacity="0.2" filter="url(#b3)"/>
</g>
<rect x="447.4" y="298.2" width="133.9" height="20.2" fill="none" stroke="#3a3a3a" stroke-width="0.9"/>
<clipPath id="c17"><rect x="447.4" y="321.6" width="133.9" height="19.7"/></clipPath>
<rect x="447.4" y="321.6" width="133.9" height="19.7" fill="#c1c1c1" stroke="none" stroke-width="1"/>
<g clip-path="url(#c17)">
<rect x="447.4" y="321.6" width="133.9" height="19.7" fill="#000" opacity="0.09" filter="url(#nz)"/>
<rect x="455.3" y="330.1" width="20" height="2.2" rx="2.42" ry="1.1" fill="#0a0a0a" opacity="0.9" filter="url(#b1)"/>
<rect x="482.9" y="329.6" width="25" height="3.2" rx="3.52" ry="1.6" fill="#0a0a0a" opacity="0.97" filter="url(#b1)"/>
<rect x="514" y="329.9" width="25" height="2.8" rx="3.08" ry="1.4" fill="#0a0a0a" opacity="0.95" filter="url(#b1)" transform="rotate(-1 526.5 331.3)"/>
<rect x="546.5" y="328.7" width="27" height="3" rx="3.3" ry="1.5" fill="#0a0a0a" opacity="0.97" filter="url(#b1)" transform="rotate(-2 560 330.2)"/>
</g>
<rect x="447.4" y="321.6" width="133.9" height="19.7" fill="none" stroke="#3a3a3a" stroke-width="0.9"/>
<text x="589.3" y="264.6" font-size="10.5" font-weight="bold" text-anchor="start" fill="#111" textLength="25.8" lengthAdjust="spacingAndGlyphs" stroke="#111" stroke-width="0.22">p-IkB</text>
<text x="589.3" y="287.5" font-size="10.5" font-weight="bold" text-anchor="start" fill="#111" textLength="37.7" lengthAdjust="spacingAndGlyphs" stroke="#111" stroke-width="0.22">t-NF-kB</text>
<text x="589.3" y="310.8" font-size="10.5" font-weight="bold" text-anchor="start" fill="#111" textLength="40.4" lengthAdjust="spacingAndGlyphs" stroke="#111" stroke-width="0.22">p-NF-kB</text>
<text x="589.3" y="334" font-size="10.5" font-weight="bold" text-anchor="start" fill="#111" textLength="38.2" lengthAdjust="spacingAndGlyphs" stroke="#111" stroke-width="0.22">GAPDH</text>
<rect x="55.55" y="488.5" width="7.48" height="23.6" fill="url(#gd)" stroke="none" stroke-width="1"/>
<line x1="59.29" y1="488.5" x2="59.29" y2="488.26" stroke="#7c7c7c" stroke-width="0.9"/>
<line x1="57.79" y1="488.26" x2="60.79" y2="488.26" stroke="#7c7c7c" stroke-width="0.9"/>
<rect x="63.03" y="488.5" width="7.48" height="23.6" fill="url(#gl)" stroke="none" stroke-width="1"/>
<line x1="66.77" y1="488.5" x2="66.77" y2="488.26" stroke="#7c7c7c" stroke-width="0.9"/>
<line x1="65.27" y1="488.26" x2="68.27" y2="488.26" stroke="#7c7c7c" stroke-width="0.9"/>
<rect x="70.51" y="488.5" width="7.48" height="23.6" fill="url(#gm)" stroke="none" stroke-width="1"/>
<line x1="74.25" y1="488.5" x2="74.25" y2="488.26" stroke="#7c7c7c" stroke-width="0.9"/>
<line x1="72.75" y1="488.26" x2="75.75" y2="488.26" stroke="#7c7c7c" stroke-width="0.9"/>
<rect x="89.19" y="440.59" width="7.48" height="71.51" fill="url(#gd)" stroke="none" stroke-width="1"/>
<line x1="92.93" y1="440.59" x2="92.93" y2="437.29" stroke="#7c7c7c" stroke-width="0.9"/>
<line x1="91.43" y1="437.29" x2="94.43" y2="437.29" stroke="#7c7c7c" stroke-width="0.9"/>
<rect x="96.67" y="485.43" width="7.48" height="26.67" fill="url(#gl)" stroke="none" stroke-width="1"/>
<line x1="100.41" y1="485.43" x2="100.41" y2="478.82" stroke="#7c7c7c" stroke-width="0.9"/>
<line x1="98.91" y1="478.82" x2="101.91" y2="478.82" stroke="#7c7c7c" stroke-width="0.9"/>
<rect x="104.15" y="480" width="7.48" height="32.1" fill="url(#gm)" stroke="none" stroke-width="1"/>
<line x1="107.89" y1="480" x2="107.89" y2="475.28" stroke="#7c7c7c" stroke-width="0.9"/>
<line x1="106.39" y1="475.28" x2="109.39" y2="475.28" stroke="#7c7c7c" stroke-width="0.9"/>
<rect x="122.83" y="419.12" width="7.48" height="92.98" fill="url(#gd)" stroke="none" stroke-width="1"/>
<line x1="126.57" y1="419.12" x2="126.57" y2="418.41" stroke="#7c7c7c" stroke-width="0.9"/>
<line x1="125.07" y1="418.41" x2="128.07" y2="418.41" stroke="#7c7c7c" stroke-width="0.9"/>
<rect x="130.31" y="493.69" width="7.48" height="18.41" fill="url(#gl)" stroke="none" stroke-width="1"/>
<line x1="134.05" y1="493.69" x2="134.05" y2="491.8" stroke="#7c7c7c" stroke-width="0.9"/>
<line x1="132.55" y1="491.8" x2="135.55" y2="491.8" stroke="#7c7c7c" stroke-width="0.9"/>
<rect x="137.79" y="478.35" width="7.48" height="33.75" fill="url(#gm)" stroke="none" stroke-width="1"/>
<line x1="141.53" y1="478.35" x2="141.53" y2="477.17" stroke="#7c7c7c" stroke-width="0.9"/>
<line x1="140.03" y1="477.17" x2="143.03" y2="477.17" stroke="#7c7c7c" stroke-width="0.9"/>
<rect x="156.47" y="423.84" width="7.48" height="88.26" fill="url(#gd)" stroke="none" stroke-width="1"/>
<line x1="160.21" y1="423.84" x2="160.21" y2="421.48" stroke="#7c7c7c" stroke-width="0.9"/>
<line x1="158.71" y1="421.48" x2="161.71" y2="421.48" stroke="#7c7c7c" stroke-width="0.9"/>
<rect x="163.95" y="499.83" width="7.48" height="12.27" fill="url(#gl)" stroke="none" stroke-width="1"/>
<line x1="167.69" y1="499.83" x2="167.69" y2="495.11" stroke="#7c7c7c" stroke-width="0.9"/>
<line x1="166.19" y1="495.11" x2="169.19" y2="495.11" stroke="#7c7c7c" stroke-width="0.9"/>
<rect x="171.43" y="472.45" width="7.48" height="39.65" fill="url(#gm)" stroke="none" stroke-width="1"/>
<line x1="175.17" y1="472.45" x2="175.17" y2="469.62" stroke="#7c7c7c" stroke-width="0.9"/>
<line x1="173.67" y1="469.62" x2="176.67" y2="469.62" stroke="#7c7c7c" stroke-width="0.9"/>
<rect x="190.11" y="394.57" width="7.48" height="117.53" fill="url(#gd)" stroke="none" stroke-width="1"/>
<line x1="193.85" y1="394.57" x2="193.85" y2="393.86" stroke="#7c7c7c" stroke-width="0.9"/>
<line x1="192.35" y1="393.86" x2="195.35" y2="393.86" stroke="#7c7c7c" stroke-width="0.9"/>
<rect x="197.59" y="505.26" width="7.48" height="6.84" fill="url(#gl)" stroke="none" stroke-width="1"/>
<line x1="201.33" y1="505.26" x2="201.33" y2="503.84" stroke="#7c7c7c" stroke-width="0.9"/>
<line x1="199.83" y1="503.84" x2="202.83" y2="503.84" stroke="#7c7c7c" stroke-width="0.9"/>
<rect x="205.07" y="463.25" width="7.48" height="48.85" fill="url(#gm)" stroke="none" stroke-width="1"/>
<line x1="208.81" y1="463.25" x2="208.81" y2="462.54" stroke="#7c7c7c" stroke-width="0.9"/>
<line x1="207.31" y1="462.54" x2="210.31" y2="462.54" stroke="#7c7c7c" stroke-width="0.9"/>
<line x1="50.6" y1="370.5" x2="50.6" y2="512.5" stroke="#b4b4b4" stroke-width="0.9"/>
<line x1="50.6" y1="512.1" x2="218.8" y2="512.1" stroke="#b4b4b4" stroke-width="0.9"/>
<line x1="47.6" y1="512.1" x2="50.6" y2="512.1" stroke="#b4b4b4" stroke-width="0.9"/>
<text x="41.9" y="514.7" font-size="8.5" font-weight="bold" text-anchor="end" fill="#111" stroke="#111" stroke-width="0.22">0</text>
<line x1="47.6" y1="488.5" x2="50.6" y2="488.5" stroke="#b4b4b4" stroke-width="0.9"/>
<text x="41.9" y="491.1" font-size="8.5" font-weight="bold" text-anchor="end" fill="#111" stroke="#111" stroke-width="0.22">1</text>
<line x1="47.6" y1="464.9" x2="50.6" y2="464.9" stroke="#b4b4b4" stroke-width="0.9"/>
<text x="41.9" y="467.5" font-size="8.5" font-weight="bold" text-anchor="end" fill="#111" stroke="#111" stroke-width="0.22">2</text>
<line x1="47.6" y1="441.3" x2="50.6" y2="441.3" stroke="#b4b4b4" stroke-width="0.9"/>
<text x="41.9" y="443.9" font-size="8.5" font-weight="bold" text-anchor="end" fill="#111" stroke="#111" stroke-width="0.22">3</text>
<line x1="47.6" y1="417.7" x2="50.6" y2="417.7" stroke="#b4b4b4" stroke-width="0.9"/>
<text x="41.9" y="420.3" font-size="8.5" font-weight="bold" text-anchor="end" fill="#111" stroke="#111" stroke-width="0.22">4</text>
<line x1="47.6" y1="394.1" x2="50.6" y2="394.1" stroke="#b4b4b4" stroke-width="0.9"/>
<text x="41.9" y="396.7" font-size="8.5" font-weight="bold" text-anchor="end" fill="#111" stroke="#111" stroke-width="0.22">5</text>
<line x1="47.6" y1="370.5" x2="50.6" y2="370.5" stroke="#b4b4b4" stroke-width="0.9"/>
<text x="41.9" y="373.1" font-size="8.5" font-weight="bold" text-anchor="end" fill="#111" stroke="#111" stroke-width="0.22">6</text>
<line x1="50.6" y1="512.1" x2="50.6" y2="515.1" stroke="#b4b4b4" stroke-width="0.9"/>
<line x1="84.24" y1="512.1" x2="84.24" y2="515.1" stroke="#b4b4b4" stroke-width="0.9"/>
<line x1="117.88" y1="512.1" x2="117.88" y2="515.1" stroke="#b4b4b4" stroke-width="0.9"/>
<line x1="151.52" y1="512.1" x2="151.52" y2="515.1" stroke="#b4b4b4" stroke-width="0.9"/>
<line x1="185.16" y1="512.1" x2="185.16" y2="515.1" stroke="#b4b4b4" stroke-width="0.9"/>
<line x1="218.8" y1="512.1" x2="218.8" y2="515.1" stroke="#b4b4b4" stroke-width="0.9"/>
<text x="66.7" y="527.7" font-size="9" font-weight="bold" text-anchor="middle" fill="#111" stroke="#111" stroke-width="0.22">0</text>
<text x="100.2" y="527.7" font-size="9" font-weight="bold" text-anchor="middle" fill="#111" stroke="#111" stroke-width="0.22">12</text>
<text x="133.6" y="527.7" font-size="9" font-weight="bold" text-anchor="middle" fill="#111" stroke="#111" stroke-width="0.22">24</text>
<text x="167.6" y="527.7" font-size="9" font-weight="bold" text-anchor="middle" fill="#111" stroke="#111" stroke-width="0.22">36</text>
<text x="201.3" y="527.7" font-size="9" font-weight="bold" text-anchor="middle" fill="#111" stroke="#111" stroke-width="0.22">48</text>
<rect x="57.3" y="371.4" width="5.2" height="5.2" fill="url(#gd)" stroke="none" stroke-width="1"/>
<text x="64.9" y="377.1" font-size="8.8" font-weight="bold" text-anchor="start" fill="#111" textLength="22" lengthAdjust="spacingAndGlyphs" stroke="#111" stroke-width="0.22">p-IkB</text>
<rect x="57.3" y="384" width="5.2" height="5.2" fill="url(#gl)" stroke="none" stroke-width="1"/>
<text x="64.9" y="389.7" font-size="8.8" font-weight="bold" text-anchor="start" fill="#111" textLength="32.1" lengthAdjust="spacingAndGlyphs" stroke="#111" stroke-width="0.22">t-NF-kB</text>
<rect x="57.3" y="397.4" width="5.2" height="5.2" fill="url(#gm)" stroke="none" stroke-width="1"/>
<text x="64.9" y="403.1" font-size="8.8" font-weight="bold" text-anchor="start" fill="#111" textLength="34" lengthAdjust="spacingAndGlyphs" stroke="#111" stroke-width="0.22">p-NF-kB</text>
<text transform="translate(27 444.4) rotate(-90)" font-size="9.6" font-weight="bold" text-anchor="middle" fill="#111" stroke="#111" stroke-width="0.22" textLength="87.3" lengthAdjust="spacingAndGlyphs">Relative expression</text>
<text x="128.8" y="538.7" font-size="9.4" font-weight="bold" text-anchor="middle" fill="#111" textLength="35.4" lengthAdjust="spacingAndGlyphs" stroke="#111" stroke-width="0.22">Time (h)</text>
<rect x="294.1" y="478.1" width="11.1" height="34.6" fill="url(#gd)" stroke="none" stroke-width="1"/>
<line x1="299.65" y1="478.1" x2="299.65" y2="477.75" stroke="#7c7c7c" stroke-width="0.9"/>
<line x1="298.15" y1="477.75" x2="301.15" y2="477.75" stroke="#7c7c7c" stroke-width="0.9"/>
<rect x="305.2" y="478.1" width="11.1" height="34.6" fill="url(#gl)" stroke="none" stroke-width="1"/>
<line x1="310.75" y1="478.1" x2="310.75" y2="477.75" stroke="#7c7c7c" stroke-width="0.9"/>
<line x1="309.25" y1="477.75" x2="312.25" y2="477.75" stroke="#7c7c7c" stroke-width="0.9"/>
<rect x="316.3" y="478.1" width="11.1" height="34.6" fill="url(#gm)" stroke="none" stroke-width="1"/>
<line x1="321.85" y1="478.1" x2="321.85" y2="477.75" stroke="#7c7c7c" stroke-width="0.9"/>
<line x1="320.35" y1="477.75" x2="323.35" y2="477.75" stroke="#7c7c7c" stroke-width="0.9"/>
<rect x="343.55" y="489.52" width="11.1" height="23.18" fill="url(#gd)" stroke="none" stroke-width="1"/>
<line x1="349.1" y1="489.52" x2="349.1" y2="483.29" stroke="#7c7c7c" stroke-width="0.9"/>
<line x1="347.6" y1="483.29" x2="350.6" y2="483.29" stroke="#7c7c7c" stroke-width="0.9"/>
<rect x="354.65" y="450.42" width="11.1" height="62.28" fill="url(#gl)" stroke="none" stroke-width="1"/>
<line x1="360.2" y1="450.42" x2="360.2" y2="433.47" stroke="#7c7c7c" stroke-width="0.9"/>
<line x1="358.7" y1="433.47" x2="361.7" y2="433.47" stroke="#7c7c7c" stroke-width="0.9"/>
<rect x="365.75" y="479.14" width="11.1" height="33.56" fill="url(#gm)" stroke="none" stroke-width="1"/>
<line x1="371.3" y1="479.14" x2="371.3" y2="473.95" stroke="#7c7c7c" stroke-width="0.9"/>
<line x1="369.8" y1="473.95" x2="372.8" y2="473.95" stroke="#7c7c7c" stroke-width="0.9"/>
<rect x="393" y="502.67" width="11.1" height="10.03" fill="url(#gd)" stroke="none" stroke-width="1"/>
<line x1="398.55" y1="502.67" x2="398.55" y2="500.24" stroke="#7c7c7c" stroke-width="0.9"/>
<line x1="397.05" y1="500.24" x2="400.05" y2="500.24" stroke="#7c7c7c" stroke-width="0.9"/>
<rect x="404.1" y="415.47" width="11.1" height="97.23" fill="url(#gl)" stroke="none" stroke-width="1"/>
<line x1="409.65" y1="415.47" x2="409.65" y2="386.06" stroke="#7c7c7c" stroke-width="0.9"/>
<line x1="408.15" y1="386.06" x2="411.15" y2="386.06" stroke="#7c7c7c" stroke-width="0.9"/>
<rect x="415.2" y="492.29" width="11.1" height="20.41" fill="url(#gm)" stroke="none" stroke-width="1"/>
<line x1="420.75" y1="492.29" x2="420.75" y2="489.86" stroke="#7c7c7c" stroke-width="0.9"/>
<line x1="419.25" y1="489.86" x2="422.25" y2="489.86" stroke="#7c7c7c" stroke-width="0.9"/>
<line x1="285.8" y1="374.3" x2="285.8" y2="513.1" stroke="#b4b4b4" stroke-width="0.9"/>
<line x1="285.8" y1="512.7" x2="434.1" y2="512.7" stroke="#b4b4b4" stroke-width="0.9"/>
<line x1="282.8" y1="512.7" x2="285.8" y2="512.7" stroke="#b4b4b4" stroke-width="0.9"/>
<text x="277.1" y="515.3" font-size="8.5" font-weight="bold" text-anchor="end" fill="#111" stroke="#111" stroke-width="0.22">0</text>
<line x1="282.8" y1="495.4" x2="285.8" y2="495.4" stroke="#b4b4b4" stroke-width="0.9"/>
<text x="277.1" y="498" font-size="8.5" font-weight="bold" text-anchor="end" fill="#111" stroke="#111" stroke-width="0.22">0.5</text>
<line x1="282.8" y1="478.1" x2="285.8" y2="478.1" stroke="#b4b4b4" stroke-width="0.9"/>
<text x="277.1" y="480.7" font-size="8.5" font-weight="bold" text-anchor="end" fill="#111" stroke="#111" stroke-width="0.22">1</text>
<line x1="282.8" y1="460.8" x2="285.8" y2="460.8" stroke="#b4b4b4" stroke-width="0.9"/>
<text x="277.1" y="463.4" font-size="8.5" font-weight="bold" text-anchor="end" fill="#111" stroke="#111" stroke-width="0.22">1.5</text>
<line x1="282.8" y1="443.5" x2="285.8" y2="443.5" stroke="#b4b4b4" stroke-width="0.9"/>
<text x="277.1" y="446.1" font-size="8.5" font-weight="bold" text-anchor="end" fill="#111" stroke="#111" stroke-width="0.22">2</text>
<line x1="282.8" y1="426.2" x2="285.8" y2="426.2" stroke="#b4b4b4" stroke-width="0.9"/>
<text x="277.1" y="428.8" font-size="8.5" font-weight="bold" text-anchor="end" fill="#111" stroke="#111" stroke-width="0.22">2.5</text>
<line x1="282.8" y1="408.9" x2="285.8" y2="408.9" stroke="#b4b4b4" stroke-width="0.9"/>
<text x="277.1" y="411.5" font-size="8.5" font-weight="bold" text-anchor="end" fill="#111" stroke="#111" stroke-width="0.22">3</text>
<line x1="282.8" y1="391.6" x2="285.8" y2="391.6" stroke="#b4b4b4" stroke-width="0.9"/>
<text x="277.1" y="394.2" font-size="8.5" font-weight="bold" text-anchor="end" fill="#111" stroke="#111" stroke-width="0.22">3.5</text>
<line x1="282.8" y1="374.3" x2="285.8" y2="374.3" stroke="#b4b4b4" stroke-width="0.9"/>
<text x="277.1" y="376.9" font-size="8.5" font-weight="bold" text-anchor="end" fill="#111" stroke="#111" stroke-width="0.22">4</text>
<line x1="285.8" y1="512.7" x2="285.8" y2="515.7" stroke="#b4b4b4" stroke-width="0.9"/>
<line x1="335.23" y1="512.7" x2="335.23" y2="515.7" stroke="#b4b4b4" stroke-width="0.9"/>
<line x1="384.67" y1="512.7" x2="384.67" y2="515.7" stroke="#b4b4b4" stroke-width="0.9"/>
<line x1="434.1" y1="512.7" x2="434.1" y2="515.7" stroke="#b4b4b4" stroke-width="0.9"/>
<text x="310.9" y="528.2" font-size="9" font-weight="bold" text-anchor="middle" fill="#111" stroke="#111" stroke-width="0.22">0</text>
<text x="360.5" y="528.2" font-size="9" font-weight="bold" text-anchor="middle" fill="#111" stroke="#111" stroke-width="0.22">0.2</text>
<text x="410" y="528.2" font-size="9" font-weight="bold" text-anchor="middle" fill="#111" stroke="#111" stroke-width="0.22">0.4</text>
<rect x="295.5" y="372.7" width="5.2" height="5.2" fill="url(#gd)" stroke="none" stroke-width="1"/>
<text x="303.1" y="378.4" font-size="8.8" font-weight="bold" text-anchor="start" fill="#111" textLength="22" lengthAdjust="spacingAndGlyphs" stroke="#111" stroke-width="0.22">p-IkB</text>
<rect x="295.5" y="385.6" width="5.2" height="5.2" fill="url(#gl)" stroke="none" stroke-width="1"/>
<text x="303.1" y="391.3" font-size="8.8" font-weight="bold" text-anchor="start" fill="#111" textLength="32.3" lengthAdjust="spacingAndGlyphs" stroke="#111" stroke-width="0.22">t-NF-kB</text>
<rect x="295.5" y="398.4" width="5.2" height="5.2" fill="url(#gm)" stroke="none" stroke-width="1"/>
<text x="303.1" y="404.1" font-size="8.8" font-weight="bold" text-anchor="start" fill="#111" textLength="34.2" lengthAdjust="spacingAndGlyphs" stroke="#111" stroke-width="0.22">p-NF-kB</text>
<text transform="translate(256.2 440) rotate(-90)" font-size="9.6" font-weight="bold" text-anchor="middle" fill="#111" stroke="#111" stroke-width="0.22" textLength="87.3" lengthAdjust="spacingAndGlyphs">Relative expression</text>
<text x="365.9" y="537.8" font-size="9.4" font-weight="bold" text-anchor="middle" fill="#111" textLength="52.6" lengthAdjust="spacingAndGlyphs" stroke="#111" stroke-width="0.22">NnV (µg/ml)</text>
<rect x="501.3" y="464.53" width="10.58" height="50.27" fill="url(#gd)" stroke="none" stroke-width="1"/>
<line x1="506.59" y1="464.53" x2="506.59" y2="464.25" stroke="#7c7c7c" stroke-width="0.9"/>
<line x1="505.09" y1="464.25" x2="508.09" y2="464.25" stroke="#7c7c7c" stroke-width="0.9"/>
<rect x="511.88" y="443.29" width="10.58" height="71.51" fill="url(#gl)" stroke="none" stroke-width="1"/>
<line x1="517.17" y1="443.29" x2="517.17" y2="442.87" stroke="#7c7c7c" stroke-width="0.9"/>
<line x1="515.67" y1="442.87" x2="518.67" y2="442.87" stroke="#7c7c7c" stroke-width="0.9"/>
<rect x="522.46" y="444" width="10.58" height="70.8" fill="url(#gm)" stroke="none" stroke-width="1"/>
<line x1="527.75" y1="444" x2="527.75" y2="443.43" stroke="#7c7c7c" stroke-width="0.9"/>
<line x1="526.25" y1="443.43" x2="529.25" y2="443.43" stroke="#7c7c7c" stroke-width="0.9"/>
<rect x="547.5" y="402.23" width="10.58" height="112.57" fill="url(#gd)" stroke="none" stroke-width="1"/>
<line x1="552.79" y1="402.23" x2="552.79" y2="395.86" stroke="#7c7c7c" stroke-width="0.9"/>
<line x1="551.29" y1="395.86" x2="554.29" y2="395.86" stroke="#7c7c7c" stroke-width="0.9"/>
<rect x="558.08" y="488.96" width="10.58" height="25.84" fill="url(#gl)" stroke="none" stroke-width="1"/>
<line x1="563.37" y1="488.96" x2="563.37" y2="485.42" stroke="#7c7c7c" stroke-width="0.9"/>
<line x1="561.87" y1="485.42" x2="564.87" y2="485.42" stroke="#7c7c7c" stroke-width="0.9"/>
<rect x="568.66" y="405.06" width="10.58" height="109.74" fill="url(#gm)" stroke="none" stroke-width="1"/>
<line x1="573.95" y1="405.06" x2="573.95" y2="401.52" stroke="#7c7c7c" stroke-width="0.9"/>
<line x1="572.45" y1="401.52" x2="575.45" y2="401.52" stroke="#7c7c7c" stroke-width="0.9"/>
<rect x="593.8" y="461.35" width="10.58" height="53.45" fill="url(#gd)" stroke="none" stroke-width="1"/>
<line x1="599.09" y1="461.35" x2="599.09" y2="444.71" stroke="#7c7c7c" stroke-width="0.9"/>
<line x1="597.59" y1="444.71" x2="600.59" y2="444.71" stroke="#7c7c7c" stroke-width="0.9"/>
<rect x="604.38" y="431.96" width="10.58" height="82.84" fill="url(#gl)" stroke="none" stroke-width="1"/>
<line x1="609.67" y1="431.96" x2="609.67" y2="423.47" stroke="#7c7c7c" stroke-width="0.9"/>
<line x1="608.17" y1="423.47" x2="611.17" y2="423.47" stroke="#7c7c7c" stroke-width="0.9"/>
<rect x="614.96" y="476.92" width="10.58" height="37.88" fill="url(#gm)" stroke="none" stroke-width="1"/>
<line x1="620.25" y1="476.92" x2="620.25" y2="468.43" stroke="#7c7c7c" stroke-width="0.9"/>
<line x1="618.75" y1="468.43" x2="621.75" y2="468.43" stroke="#7c7c7c" stroke-width="0.9"/>
<rect x="639.8" y="482.94" width="10.58" height="31.86" fill="url(#gd)" stroke="none" stroke-width="1"/>
<line x1="645.09" y1="482.94" x2="645.09" y2="460.28" stroke="#7c7c7c" stroke-width="0.9"/>
<line x1="643.59" y1="460.28" x2="646.59" y2="460.28" stroke="#7c7c7c" stroke-width="0.9"/>
<rect x="650.38" y="392.32" width="10.58" height="122.48" fill="url(#gl)" stroke="none" stroke-width="1"/>
<line x1="655.67" y1="392.32" x2="655.67" y2="380.28" stroke="#7c7c7c" stroke-width="0.9"/>
<line x1="654.17" y1="380.28" x2="657.17" y2="380.28" stroke="#7c7c7c" stroke-width="0.9"/>
<rect x="660.96" y="487.19" width="10.58" height="27.61" fill="url(#gm)" stroke="none" stroke-width="1"/>
<line x1="666.25" y1="487.19" x2="666.25" y2="475.86" stroke="#7c7c7c" stroke-width="0.9"/>
<line x1="664.75" y1="475.86" x2="667.75" y2="475.86" stroke="#7c7c7c" stroke-width="0.9"/>
<line x1="493.8" y1="373.2" x2="493.8" y2="515.2" stroke="#c2c2c2" stroke-width="0.9"/>
<line x1="493.8" y1="514.8" x2="678.4" y2="514.8" stroke="#c2c2c2" stroke-width="0.9"/>
<line x1="490.8" y1="514.8" x2="493.8" y2="514.8" stroke="#c2c2c2" stroke-width="0.9"/>
<text x="485.1" y="517.4" font-size="8.5" font-weight="bold" text-anchor="end" fill="#111" stroke="#111" stroke-width="0.22">0</text>
<line x1="490.8" y1="500.64" x2="493.8" y2="500.64" stroke="#c2c2c2" stroke-width="0.9"/>
<text x="485.1" y="503.24" font-size="8.5" font-weight="bold" text-anchor="end" fill="#111" stroke="#111" stroke-width="0.22">0.2</text>
<line x1="490.8" y1="486.48" x2="493.8" y2="486.48" stroke="#c2c2c2" stroke-width="0.9"/>
<text x="485.1" y="489.08" font-size="8.5" font-weight="bold" text-anchor="end" fill="#111" stroke="#111" stroke-width="0.22">0.4</text>
<line x1="490.8" y1="472.32" x2="493.8" y2="472.32" stroke="#c2c2c2" stroke-width="0.9"/>
<text x="485.1" y="474.92" font-size="8.5" font-weight="bold" text-anchor="end" fill="#111" stroke="#111" stroke-width="0.22">0.6</text>
<line x1="490.8" y1="458.16" x2="493.8" y2="458.16" stroke="#c2c2c2" stroke-width="0.9"/>
<text x="485.1" y="460.76" font-size="8.5" font-weight="bold" text-anchor="end" fill="#111" stroke="#111" stroke-width="0.22">0.8</text>
<line x1="490.8" y1="444" x2="493.8" y2="444" stroke="#c2c2c2" stroke-width="0.9"/>
<text x="485.1" y="446.6" font-size="8.5" font-weight="bold" text-anchor="end" fill="#111" stroke="#111" stroke-width="0.22">1</text>
<line x1="490.8" y1="429.84" x2="493.8" y2="429.84" stroke="#c2c2c2" stroke-width="0.9"/>
<text x="485.1" y="432.44" font-size="8.5" font-weight="bold" text-anchor="end" fill="#111" stroke="#111" stroke-width="0.22">1.2</text>
<line x1="490.8" y1="415.68" x2="493.8" y2="415.68" stroke="#c2c2c2" stroke-width="0.9"/>
<text x="485.1" y="418.28" font-size="8.5" font-weight="bold" text-anchor="end" fill="#111" stroke="#111" stroke-width="0.22">1.4</text>
<line x1="490.8" y1="401.52" x2="493.8" y2="401.52" stroke="#c2c2c2" stroke-width="0.9"/>
<text x="485.1" y="404.12" font-size="8.5" font-weight="bold" text-anchor="end" fill="#111" stroke="#111" stroke-width="0.22">1.6</text>
<line x1="490.8" y1="387.36" x2="493.8" y2="387.36" stroke="#c2c2c2" stroke-width="0.9"/>
<text x="485.1" y="389.96" font-size="8.5" font-weight="bold" text-anchor="end" fill="#111" stroke="#111" stroke-width="0.22">1.8</text>
<line x1="490.8" y1="373.2" x2="493.8" y2="373.2" stroke="#c2c2c2" stroke-width="0.9"/>
<text x="485.1" y="375.8" font-size="8.5" font-weight="bold" text-anchor="end" fill="#111" stroke="#111" stroke-width="0.22">2</text>
<line x1="493.8" y1="514.8" x2="493.8" y2="517.8" stroke="#c2c2c2" stroke-width="0.9"/>
<line x1="539.95" y1="514.8" x2="539.95" y2="517.8" stroke="#c2c2c2" stroke-width="0.9"/>
<line x1="586.1" y1="514.8" x2="586.1" y2="517.8" stroke="#c2c2c2" stroke-width="0.9"/>
<line x1="632.25" y1="514.8" x2="632.25" y2="517.8" stroke="#c2c2c2" stroke-width="0.9"/>
<line x1="678.4" y1="514.8" x2="678.4" y2="517.8" stroke="#c2c2c2" stroke-width="0.9"/>
<text x="516.9" y="530.3" font-size="9" font-weight="bold" text-anchor="middle" fill="#111" stroke="#111" stroke-width="0.22">0</text>
<text x="563.4" y="530.3" font-size="9" font-weight="bold" text-anchor="middle" fill="#111" stroke="#111" stroke-width="0.22">-</text>
<text x="609.4" y="530.3" font-size="9" font-weight="bold" text-anchor="middle" fill="#111" stroke="#111" stroke-width="0.22">0.2</text>
<text x="656" y="530.3" font-size="9" font-weight="bold" text-anchor="middle" fill="#111" stroke="#111" stroke-width="0.22">0.4</text>
<rect x="497.6" y="371.4" width="5.2" height="5.2" fill="url(#gd)" stroke="none" stroke-width="1"/>
<text x="505.3" y="377.1" font-size="8.8" font-weight="bold" text-anchor="start" fill="#111" textLength="22.1" lengthAdjust="spacingAndGlyphs" stroke="#111" stroke-width="0.22">p-IkB</text>
<rect x="497.6" y="385.4" width="5.2" height="5.2" fill="url(#gl)" stroke="none" stroke-width="1"/>
<text x="505.3" y="391.1" font-size="8.8" font-weight="bold" text-anchor="start" fill="#111" textLength="32.4" lengthAdjust="spacingAndGlyphs" stroke="#111" stroke-width="0.22">t-NF-kB</text>
<rect x="497.6" y="399.3" width="5.2" height="5.2" fill="url(#gm)" stroke="none" stroke-width="1"/>
<text x="505.3" y="405" font-size="8.8" font-weight="bold" text-anchor="start" fill="#111" textLength="34.3" lengthAdjust="spacingAndGlyphs" stroke="#111" stroke-width="0.22">p-NF-kB</text>
<text transform="translate(462.9 441.6) rotate(-90)" font-size="9.6" font-weight="bold" text-anchor="middle" fill="#111" stroke="#111" stroke-width="0.22" textLength="87" lengthAdjust="spacingAndGlyphs">Relative expression</text>
<line x1="544.9" y1="533.3" x2="680.2" y2="533.3" stroke="#333" stroke-width="0.8"/>
<text x="614.5" y="546.5" font-size="9.6" font-weight="bold" text-anchor="middle" fill="#111" textLength="71" lengthAdjust="spacingAndGlyphs" stroke="#111" stroke-width="0.22">TGF-β (10ng/ml)</text>
<text x="346.6" y="37.93" font-size="15" font-weight="bold" text-anchor="middle" fill="#111" stroke="none">*</text>
<text x="333.1" y="128.82" font-size="15" font-weight="bold" text-anchor="middle" fill="#111" stroke="none">*</text>
<text x="374.3" y="104.92" font-size="15" font-weight="bold" text-anchor="middle" fill="#111" stroke="none">*</text>
<text x="388.5" y="124.33" font-size="15" font-weight="bold" text-anchor="middle" fill="#111" stroke="none">*</text>
<text x="381" y="101.52" font-size="9.8" font-weight="bold" text-anchor="middle" fill="#111" textLength="5" lengthAdjust="spacingAndGlyphs" stroke="#111" stroke-width="0.55" font-style="italic">#</text>
<text x="394.1" y="120.72" font-size="9.8" font-weight="bold" text-anchor="middle" fill="#111" textLength="5" lengthAdjust="spacingAndGlyphs" stroke="#111" stroke-width="0.55" font-style="italic">#</text>
<text x="545.7" y="34.62" font-size="15" font-weight="bold" text-anchor="middle" fill="#111" stroke="none">*</text>
<text x="532.7" y="127.03" font-size="15" font-weight="bold" text-anchor="middle" fill="#111" stroke="none">*</text>
<text x="588.7" y="125.03" font-size="15" font-weight="bold" text-anchor="middle" fill="#111" stroke="none">*</text>
<text x="577.9" y="77.52" font-size="9.8" font-weight="bold" text-anchor="middle" fill="#111" textLength="5" lengthAdjust="spacingAndGlyphs" stroke="#111" stroke-width="0.55" font-style="italic">#</text>
<text x="594.4" y="121.02" font-size="9.8" font-weight="bold" text-anchor="middle" fill="#111" textLength="5" lengthAdjust="spacingAndGlyphs" stroke="#111" stroke-width="0.55" font-style="italic">#</text>
<text x="92.7" y="439.93" font-size="15" font-weight="bold" text-anchor="middle" fill="#111" stroke="none">*</text>
<text x="107.5" y="480.62" font-size="15" font-weight="bold" text-anchor="middle" fill="#111" stroke="none">*</text>
<text x="126.3" y="420.52" font-size="15" font-weight="bold" text-anchor="middle" fill="#111" stroke="none">*</text>
<text x="133" y="496.43" font-size="15" font-weight="bold" text-anchor="middle" fill="#111" stroke="none">*</text>
<text x="141.1" y="479.82" font-size="15" font-weight="bold" text-anchor="middle" fill="#111" stroke="none">*</text>
<text x="159.5" y="425.12" font-size="15" font-weight="bold" text-anchor="middle" fill="#111" stroke="none">*</text>
<text x="167.1" y="500.22" font-size="15" font-weight="bold" text-anchor="middle" fill="#111" stroke="none">*</text>
<text x="174.7" y="473.02" font-size="15" font-weight="bold" text-anchor="middle" fill="#111" stroke="none">*</text>
<text x="192.8" y="395.02" font-size="15" font-weight="bold" text-anchor="middle" fill="#111" stroke="none">*</text>
<text x="200.4" y="507.32" font-size="15" font-weight="bold" text-anchor="middle" fill="#111" stroke="none">*</text>
<text x="208.1" y="464.12" font-size="15" font-weight="bold" text-anchor="middle" fill="#111" stroke="none">*</text>
<text x="349.2" y="485.93" font-size="15" font-weight="bold" text-anchor="middle" fill="#111" stroke="none">*</text>
<text x="371.1" y="476.93" font-size="15" font-weight="bold" text-anchor="middle" fill="#111" stroke="none">*</text>
<text x="410.3" y="388.12" font-size="15" font-weight="bold" text-anchor="middle" fill="#111" stroke="none">*</text>
<text x="399" y="503.62" font-size="15" font-weight="bold" text-anchor="middle" fill="#111" stroke="none">*</text>
<text x="421.8" y="492.93" font-size="15" font-weight="bold" text-anchor="middle" fill="#111" stroke="none">*</text>
<text x="553" y="398.82" font-size="15" font-weight="bold" text-anchor="middle" fill="#111" stroke="none">*</text>
<text x="563.5" y="488.32" font-size="15" font-weight="bold" text-anchor="middle" fill="#111" stroke="none">*</text>
<text x="574.2" y="405.52" font-size="15" font-weight="bold" text-anchor="middle" fill="#111" stroke="none">*</text>
<text x="607.1" y="427.32" font-size="15" font-weight="bold" text-anchor="middle" fill="#111" stroke="none">*</text>
<text x="618.7" y="470.02" font-size="15" font-weight="bold" text-anchor="middle" fill="#111" stroke="none">*</text>
<text x="642" y="462.72" font-size="15" font-weight="bold" text-anchor="middle" fill="#111" stroke="none">*</text>
<text x="652.7" y="381.93" font-size="15" font-weight="bold" text-anchor="middle" fill="#111" stroke="none">*</text>
<text x="665.2" y="477.32" font-size="15" font-weight="bold" text-anchor="middle" fill="#111" stroke="none">*</text>
<text x="598.5" y="443.12" font-size="9.8" font-weight="bold" text-anchor="middle" fill="#111" textLength="5" lengthAdjust="spacingAndGlyphs" stroke="#111" stroke-width="0.55" font-style="italic">#</text>
<text x="613" y="423.62" font-size="9.8" font-weight="bold" text-anchor="middle" fill="#111" textLength="5" lengthAdjust="spacingAndGlyphs" stroke="#111" stroke-width="0.55" font-style="italic">#</text>
<text x="623.7" y="466.32" font-size="9.8" font-weight="bold" text-anchor="middle" fill="#111" textLength="5" lengthAdjust="spacingAndGlyphs" stroke="#111" stroke-width="0.55" font-style="italic">#</text>
<text x="648.5" y="458.52" font-size="9.8" font-weight="bold" text-anchor="middle" fill="#111" textLength="5" lengthAdjust="spacingAndGlyphs" stroke="#111" stroke-width="0.55" font-style="italic">#</text>
<text x="659.5" y="378.52" font-size="9.8" font-weight="bold" text-anchor="middle" fill="#111" textLength="5" lengthAdjust="spacingAndGlyphs" stroke="#111" stroke-width="0.55" font-style="italic">#</text>
<text x="671.1" y="473.92" font-size="9.8" font-weight="bold" text-anchor="middle" fill="#111" textLength="5" lengthAdjust="spacingAndGlyphs" stroke="#111" stroke-width="0.55" font-style="italic">#</text>
</svg>
</body></html>
